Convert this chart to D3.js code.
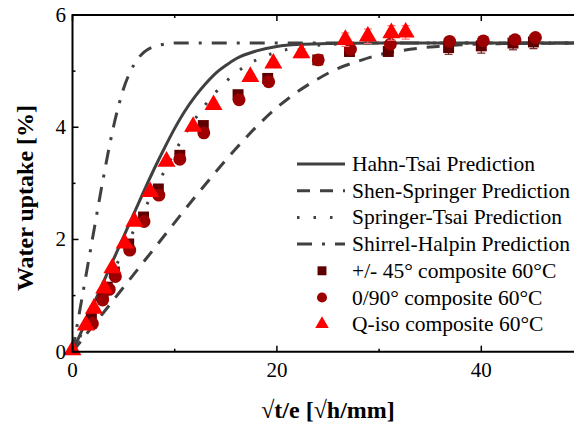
<!DOCTYPE html>
<html>
<head>
<meta charset="utf-8">
<script src="https://cdn.jsdelivr.net/npm/d3@7"></script>
<style>
  body { margin:0; background:#fff; }
</style>
</head>
<body>
<script>
// model curves: [sqrt(t)/e, uptake %]
let hahnTsai = [[0,0],[2,0.82],[4,1.64],[6,2.46],[8,3.26],[9,3.63],[10,3.98],[11,4.29],[12,4.55],[13,4.77],[14,4.96],[15,5.1],[16,5.22],[18,5.36],[20,5.44],[22,5.475],[25,5.49],[30,5.5],[50,5.5]];
let shenSpringer = [[0,0],[4,0.92],[8,1.84],[12,2.76],[14,3.2],[16,3.62],[18,4.01],[20,4.35],[22,4.63],[24,4.86],[26,5.05],[28,5.18],[30,5.29],[32,5.36],[35,5.43],[38,5.47],[42,5.49],[50,5.5]];
let springerTsai = [[0,0],[2,0.72],[4,1.44],[6,2.16],[8,2.88],[9,3.22],[10,3.56],[11,3.87],[12,4.15],[13,4.4],[14,4.62],[15,4.81],[16,4.97],[17,5.1],[18,5.2],[20,5.34],[22,5.42],[24,5.46],[27,5.49],[30,5.5],[50,5.5]];
let shirrelHalpin = [[0,0],[1,1.03],[2,2.06],[3,3.08],[4,4.0],[5,4.69],[6,5.11],[7,5.34],[8,5.44],[9,5.48],[10,5.5],[50,5.5]];

// measured points: x, y, error
let pm45X = [1.85,3.0,3.4,4.1,5.5,6.95,8.4,10.5,12.8,16.2,19.1,24.0,27.1,30.9,36.8,40.0,43.1,45.1];
let pm45Y = [0.6,1.0,1.15,1.42,1.92,2.4,2.9,3.5,4.03,4.58,4.87,5.2,5.35,5.35,5.42,5.45,5.5,5.52];
let pm45Err = [0.03,0.03,0.03,0.03,0.04,0.04,0.04,0.05,0.05,0.05,0.05,0.05,0.08,0.08,0.12,0.13,0.12,0.12];

let cp090X = [1.95,2.95,3.6,4.2,5.6,7.0,8.45,10.5,12.85,16.3,19.2,24.05,27.2,31.1,36.9,40.2,43.3,45.3];
let cp090Y = [0.5,0.92,1.11,1.34,1.81,2.32,2.79,3.43,3.9,4.49,4.81,5.2,5.39,5.48,5.53,5.54,5.56,5.6];
let cp090Err = [0.03,0.03,0.03,0.03,0.03,0.03,0.03,0.04,0.04,0.04,0.04,0.04,0.05,0.05,0.05,0.05,0.05,0.05];

let qisoX = [0,1.3,2.1,3.1,3.9,5.1,6.05,7.6,9.2,11.8,13.8,17.4,19.65,22.4,26.7,28.9,31.2,32.6];
let qisoY = [0.03,0.47,0.77,1.13,1.49,1.93,2.32,2.85,3.39,4.01,4.4,4.9,5.14,5.32,5.56,5.62,5.68,5.69];
let qisoErr = [0.02,0.03,0.03,0.03,0.03,0.04,0.04,0.04,0.04,0.05,0.05,0.06,0.06,0.08,0.12,0.13,0.13,0.12];

let xTicks = [0,20,40];
let xMinor = [10,30];
let yTicks = [0,2,4,6];
let yMinor = [1,3,5];

let legendNames = ["Hahn-Tsai Prediction","Shen-Springer Prediction","Springer-Tsai Prediction","Shirrel-Halpin Prediction","+/- 45\u00b0 composite 60\u00b0C","0/90\u00b0 composite 60\u00b0C","Q-iso composite 60\u00b0C"];

let width = 574, height = 423;
let margin = {left:72.5, top:15, bottom:351.7};
let lineColor = "#404040";
let serif = "'Liberation Serif', Tinos, 'DejaVu Serif', serif";

let svg = d3.select("body").append("svg").attr("width",width).attr("height",height)
            .attr("font-family",serif);

let x = d3.scaleLinear().domain([0,50]).range([margin.left,margin.left+511]);
let y = d3.scaleLinear().domain([0,6]).range([margin.bottom,margin.top]);

let line = d3.line().x(d=>x(d[0])).y(d=>y(d[1])).curve(d3.curveMonotoneX);

let models = [
  {data:hahnTsai, dash:null},
  {data:shenSpringer, dash:"13,10"},
  {data:springerTsai, dash:"2.5,14"},
  {data:shirrelHalpin, dash:"15,10,3,10"}
];

let plot = svg.append("g");
plot.selectAll("path.model").data(models).enter().append("path")
    .attr("class","model")
    .attr("fill","none")
    .attr("stroke",lineColor)
    .attr("stroke-width",3)
    .attr("stroke-dasharray",d=>d.dash)
    .attr("d",d=>line(d.data));

let series = [
  {xs:pm45X, ys:pm45Y, es:pm45Err, color:"#5e0000", bar:"#7a2020", shape:d3.symbolSquare, size:120},
  {xs:cp090X, ys:cp090Y, es:cp090Err, color:"#9c0000", bar:"#b03030", shape:d3.symbolCircle, size:130},
  {xs:qisoX, ys:qisoY, es:qisoErr, color:"#ff0000", bar:"#ff7070", shape:d3.symbolTriangle, size:140}
];

series.forEach(s=>{
  let pts = s.xs.map((v,i)=>({x:v, y:s.ys[i], e:s.es[i]}));
  let g = plot.append("g");
  let eb = g.selectAll("g.err").data(pts).enter().append("g").attr("class","err")
      .attr("stroke",s.bar).attr("stroke-width",1.2);
  eb.append("line").attr("x1",d=>x(d.x)).attr("x2",d=>x(d.x))
      .attr("y1",d=>y(d.y-d.e)).attr("y2",d=>y(d.y+d.e));
  eb.append("line").attr("x1",d=>x(d.x)-4).attr("x2",d=>x(d.x)+4)
      .attr("y1",d=>y(d.y-d.e)).attr("y2",d=>y(d.y-d.e));
  eb.append("line").attr("x1",d=>x(d.x)-4).attr("x2",d=>x(d.x)+4)
      .attr("y1",d=>y(d.y+d.e)).attr("y2",d=>y(d.y+d.e));
  g.selectAll("path.pt").data(pts).enter().append("path")
      .attr("class","pt")
      .attr("fill",s.color)
      .attr("transform",d=>"translate("+x(d.x)+","+y(d.y)+")")
      .attr("d",d3.symbol().type(s.shape).size(s.size));
});

// frame + axes
let axisG = svg.append("g").attr("stroke","#000");
axisG.append("line").attr("x1",x(0)).attr("x2",width).attr("y1",y(0)).attr("y2",y(0)).attr("stroke-width",2);
axisG.append("line").attr("x1",x(0)).attr("x2",width).attr("y1",y(6)).attr("y2",y(6)).attr("stroke-width",2);
axisG.append("line").attr("x1",x(0)).attr("x2",x(0)).attr("y1",y(0)+1).attr("y2",y(6)-1).attr("stroke-width",2);

let xAll = xTicks.map(v=>({v:v,len:6})).concat(xMinor.map(v=>({v:v,len:3})));
axisG.selectAll("line.xb").data(xAll).enter().append("line").attr("class","xb")
    .attr("stroke-width",1.5)
    .attr("x1",d=>x(d.v)).attr("x2",d=>x(d.v))
    .attr("y1",y(0)).attr("y2",d=>y(0)-d.len);
axisG.selectAll("line.xt").data(xAll).enter().append("line").attr("class","xt")
    .attr("stroke-width",1.5)
    .attr("x1",d=>x(d.v)).attr("x2",d=>x(d.v))
    .attr("y1",y(6)).attr("y2",d=>y(6)+d.len);
let yAll = yTicks.map(v=>({v:v,len:6})).concat(yMinor.map(v=>({v:v,len:3})));
axisG.selectAll("line.yl").data(yAll).enter().append("line").attr("class","yl")
    .attr("stroke-width",1.5)
    .attr("x1",x(0)).attr("x2",d=>x(0)+d.len)
    .attr("y1",d=>y(d.v)).attr("y2",d=>y(d.v));

svg.selectAll("text.xl").data(xTicks).enter().append("text").attr("class","xl")
    .attr("x",d=>x(d)).attr("y",377)
    .attr("text-anchor","middle").attr("font-size",21).text(d=>d);
svg.selectAll("text.yl").data(yTicks).enter().append("text").attr("class","yl")
    .attr("x",66).attr("y",d=>y(d)+7)
    .attr("text-anchor","end").attr("font-size",21).text(d=>d);

svg.append("text").attr("x",328).attr("y",418)
    .attr("text-anchor","middle").attr("font-size",24).attr("font-weight","bold")
    .text("\u221at/e [\u221ah/mm]");
svg.append("text").attr("transform","translate(33,198) rotate(-90)")
    .attr("text-anchor","middle").attr("font-size",24).attr("font-weight","bold")
    .text("Water uptake [%]");

// legend
let legend = svg.append("g");
let rowY = i=>164+i*26.7;
models.forEach((m,i)=>{
  legend.append("line").attr("x1",297).attr("x2",345)
      .attr("y1",rowY(i)).attr("y2",rowY(i))
      .attr("stroke",lineColor).attr("stroke-width",3)
      .attr("stroke-dasharray",m.dash);
});
series.forEach((s,i)=>{
  legend.append("path").attr("fill",s.color)
      .attr("transform","translate(322,"+rowY(i+4)+")")
      .attr("d",d3.symbol().type(s.shape).size(80));
});
legend.selectAll("text").data(legendNames).enter().append("text")
    .attr("x",352).attr("y",(d,i)=>rowY(i)+7)
    .attr("font-size",21.5).text(d=>d);
</script>
</body>
</html>
